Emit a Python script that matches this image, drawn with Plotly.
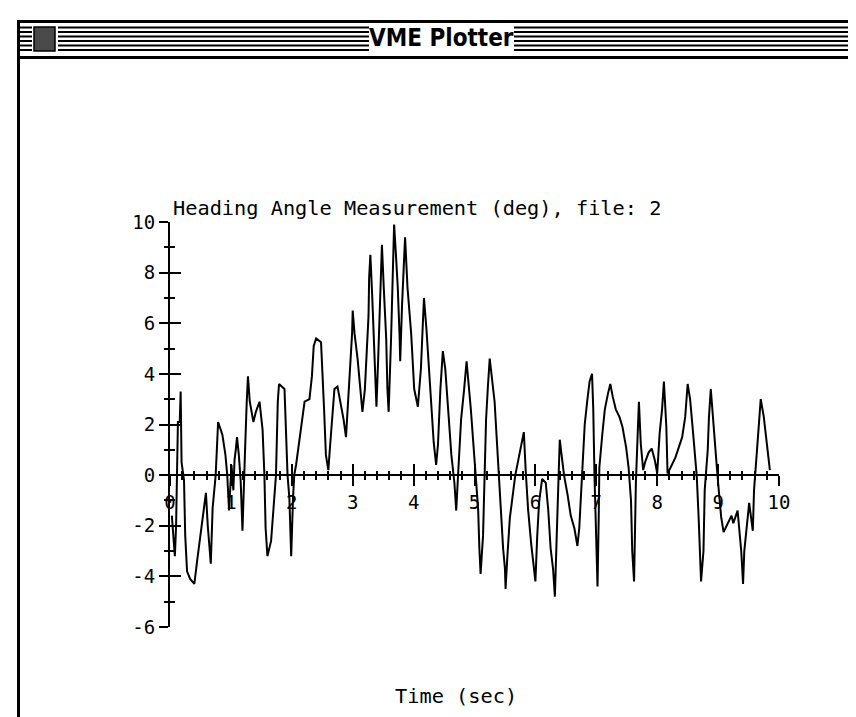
import plotly.graph_objects as go

# ---------------- data ----------------
time_s = [0.03, 0.06, 0.08, 0.10, 0.12, 0.13, 0.16, 0.175, 0.19, 0.21, 0.23, 0.25, 0.28, 0.33, 0.40,
          0.45, 0.50, 0.56, 0.59, 0.62, 0.67, 0.70, 0.75, 0.79, 0.86, 0.91, 0.94, 0.97, 0.99, 1.01,
          1.04, 1.06, 1.08, 1.10, 1.13, 1.16, 1.19, 1.21, 1.23, 1.26, 1.28, 1.31, 1.37, 1.41, 1.47,
          1.52, 1.55, 1.57, 1.60, 1.66, 1.71, 1.74, 1.77, 1.79, 1.88, 1.90, 1.93, 1.96, 1.99, 2.02,
          2.04, 2.07, 2.12, 2.16, 2.21, 2.29, 2.33, 2.36, 2.40, 2.48, 2.50, 2.53, 2.56, 2.60, 2.63,
          2.67, 2.70, 2.75, 2.80, 2.85, 2.89, 2.92, 2.96, 2.99, 3.00, 3.03, 3.08, 3.12, 3.16, 3.20,
          3.23, 3.26, 3.27, 3.29, 3.32, 3.35, 3.38, 3.39, 3.42, 3.45, 3.48, 3.51, 3.55, 3.57, 3.59,
          3.63, 3.66, 3.68, 3.71, 3.74, 3.77, 3.78, 3.81, 3.85, 3.86, 3.90, 3.96, 4.01, 4.07, 4.12,
          4.15, 4.17, 4.21, 4.25, 4.29, 4.33, 4.37, 4.40, 4.44, 4.48, 4.52, 4.56, 4.62, 4.67, 4.70,
          4.73, 4.78, 4.83, 4.87, 4.94, 5.00, 5.06, 5.08, 5.10, 5.14, 5.17, 5.19, 5.22, 5.25, 5.33,
          5.38, 5.42, 5.47, 5.50, 5.51, 5.54, 5.58, 5.67, 5.72, 5.78, 5.81, 5.84, 5.88, 5.93, 5.97,
          6.00, 6.03, 6.06, 6.11, 6.17, 6.21, 6.25, 6.29, 6.32, 6.35, 6.38, 6.40, 6.43, 6.47, 6.53,
          6.58, 6.64, 6.69, 6.72, 6.77, 6.81, 6.85, 6.89, 6.93, 6.95, 6.97, 7.00, 7.02, 7.04, 7.05,
          7.10, 7.14, 7.19, 7.23, 7.27, 7.32, 7.38, 7.43, 7.49, 7.53, 7.57, 7.59, 7.62, 7.65, 7.68,
          7.70, 7.73, 7.77, 7.80, 7.86, 7.91, 7.96, 8.00, 8.04, 8.08, 8.11, 8.15, 8.17, 8.22, 8.30,
          8.41, 8.46, 8.50, 8.54, 8.59, 8.65, 8.68, 8.70, 8.72, 8.76, 8.78, 8.83, 8.85, 8.88, 8.92,
          8.97, 9.00, 9.03, 9.05, 9.09, 9.16, 9.22, 9.25, 9.32, 9.38, 9.41, 9.43, 9.48, 9.51, 9.54,
          9.57, 9.59, 9.64, 9.68, 9.70, 9.75, 9.78, 9.81, 9.85]
heading_deg = [-1.6, -2.6, -3.2, -2.0, 0.0, 2.1, 2.1, 3.3, 0.5, 0.0, -0.2, -2.4, -3.8, -4.1, -4.3,
               -3.3, -2.4, -1.1, -0.7, -2.0, -3.5, -1.3, 0.0, 2.1, 1.6, 0.8, 0.0, -1.4, -0.5, 0.4,
               -0.6, 0.6, 1.0, 1.5, 0.8, -0.2, -2.2, -0.3, 0.8, 2.9, 3.9, 2.9, 2.1, 2.5, 2.9,
               1.8, 0.0, -2.1, -3.2, -2.6, -0.9, 0.0, 2.9, 3.6, 3.4, 2.2, 0.0, -0.9, -3.2, -0.9,
               0.0, 0.4, 1.3, 2.1, 2.9, 3.0, 3.9, 5.1, 5.4, 5.25, 3.9, 2.6, 0.8, 0.2, 1.2,
               2.7, 3.4, 3.5, 2.9, 2.2, 1.5, 2.7, 4.3, 5.6, 6.5, 5.6, 4.6, 3.5, 2.5, 3.4,
               4.7, 6.3, 7.8, 8.7, 7.1, 5.4, 3.8, 2.7, 4.7, 7.4, 9.1, 7.4, 5.4, 3.4, 2.5,
               5.4, 8.0, 9.9, 8.7, 7.4, 5.5, 4.5, 6.7, 8.7, 9.4, 7.4, 5.6, 3.4, 2.7, 4.2,
               5.8, 7.0, 5.8, 4.3, 2.9, 1.3, 0.4, 1.2, 3.4, 4.9, 4.2, 2.7, 0.8, -0.3, -1.4,
               0.0, 2.2, 3.4, 4.5, 2.6, 0.6, -1.35, -2.9, -3.9, -2.4, 0.0, 2.2, 3.5, 4.6, 2.9,
               0.9, -1.1, -2.9, -3.7, -4.5, -3.2, -1.7, 0.0, 0.6, 1.3, 1.7, 0.2, -1.35, -2.7, -3.5,
               -4.2, -2.4, -1.1, -0.15, -0.3, -1.35, -2.9, -3.7, -4.8, -2.4, 0.2, 1.4, 0.8, 0.0, -0.8,
               -1.6, -2.1, -2.8, -2.1, 0.0, 2.0, 2.9, 3.7, 4.0, 2.6, 0.0, -3.0, -4.4, -1.6, 0.3,
               1.65, 2.6, 3.2, 3.6, 3.1, 2.6, 2.3, 1.9, 1.1, 0.3, -1.0, -3.0, -4.2, -0.3, 1.65,
               2.9, 1.25, 0.2, 0.5, 0.9, 1.05, 0.6, 0.07, 1.65, 2.6, 3.7, 1.9, 0.07, 0.3, 0.7,
               1.5, 2.3, 3.6, 3.0, 1.65, -0.07, -1.65, -3.2, -4.2, -3.0, -0.6, 1.0, 2.3, 3.4, 2.3,
               0.6, -0.3, -1.0, -1.65, -2.25, -1.9, -1.6, -1.9, -1.4, -3.0, -4.3, -3.0, -1.65, -1.1, -1.65,
               -2.2, -0.6, 1.0, 2.3, 3.0, 2.3, 1.65, 1.0, 0.2]

x_ticks = [0, 1, 2, 3, 4, 5, 6, 7, 8, 9, 10]
x_tick_labels = ["0", "1", "2", "3", "4", "5", "6", "7", "8", "9", "10"]
y_ticks = [-6, -4, -2, 0, 2, 4, 6, 8, 10]
y_tick_labels = ["-6", "-4", "-2", "0", "2", "4", "6", "8", "10"]

plot_title = "Heading Angle Measurement (deg), file: 2"
x_title = "Time (sec)"
window_title = "VME Plotter"

# ---------------- layout geometry (pixels) ----------------
W, H = 856, 717
L, R, T, B = 162, 771, 214, 619
MONO = "DejaVu Sans Mono, Liberation Mono, monospace"


def px(xp):
    return (xp - L) / (R - L)


def py(yp):
    return (B - yp) / (B - T)


fig = go.Figure()
fig.add_trace(go.Scatter(x=time_s, y=heading_deg, mode="lines",
                         line=dict(color="black", width=2),
                         hoverinfo="skip", showlegend=False))
# helper trace so the overlay axes (opposite-side ticks) render
fig.add_trace(go.Scatter(x=[None], y=[None], xaxis="x2", yaxis="y2",
                         mode="lines", showlegend=False, hoverinfo="skip"))

y0_pos = (0 - (-6)) / (10 - (-6))

common_x = dict(range=[0, 10], showgrid=False, zeroline=False, fixedrange=True)
common_y = dict(range=[-6, 10], showgrid=False, zeroline=False, fixedrange=True)

fig.update_layout(
    width=W, height=H,
    margin=dict(l=L, r=W - R, t=T, b=H - B, pad=0),
    paper_bgcolor="white", plot_bgcolor="white",
    showlegend=False,
    xaxis=dict(**common_x, anchor="free", position=y0_pos,
               showline=True, linecolor="black", linewidth=2,
               tickmode="array", tickvals=x_ticks, ticktext=x_tick_labels,
               ticks="outside", ticklen=10, tickwidth=2, tickcolor="black",
               minor=dict(dtick=0.2, ticks="outside", ticklen=4, tickwidth=2, tickcolor="black"),
               tickfont=dict(family=MONO, size=19, color="black")),
    xaxis2=dict(**common_x, overlaying="x", anchor="free", position=y0_pos,
                showline=False, showticklabels=False,
                tickmode="array", tickvals=x_ticks,
                ticks="inside", ticklen=11, tickwidth=2, tickcolor="black",
                minor=dict(dtick=0.2, ticks="inside", ticklen=4, tickwidth=2, tickcolor="black")),
    yaxis=dict(**common_y, anchor="x",
               showline=True, linecolor="black", linewidth=2,
               tickmode="array", tickvals=y_ticks, ticktext=y_tick_labels,
               ticks="outside", ticklen=9, tickwidth=2, tickcolor="black",
               minor=dict(dtick=1, ticks="outside", ticklen=4, tickwidth=2, tickcolor="black"),
               tickfont=dict(family=MONO, size=19, color="black")),
    yaxis2=dict(**common_y, overlaying="y", anchor="x", side="left",
                showline=False, showticklabels=False,
                tickmode="array", tickvals=y_ticks,
                ticks="inside", ticklen=11, tickwidth=2, tickcolor="black",
                minor=dict(dtick=1, ticks="inside", ticklen=5, tickwidth=2, tickcolor="black")),
)

annotations = [
    dict(text=plot_title, xref="paper", yref="paper", x=px(163), y=py(200),
         xanchor="left", yanchor="middle", showarrow=False,
         font=dict(family=MONO, size=20.3, color="black")),
    dict(text=x_title, xref="paper", yref="paper", x=px(448), y=py(688),
         xanchor="center", yanchor="middle", showarrow=False,
         font=dict(family=MONO, size=20.3, color="black")),
    dict(text="<b>" + window_title + "</b>", xref="paper", yref="paper", x=px(433), y=py(30),
         xanchor="center", yanchor="middle", showarrow=False,
         font=dict(family="DejaVu Sans Condensed, DejaVu Sans, sans-serif", size=24, color="black")),
]
fig.update_layout(annotations=annotations)

# ---------------- window chrome (classic Mac window) ----------------
shapes = []


def hline(x0, x1, y, w):
    shapes.append(dict(type="line", xref="paper", yref="paper",
                       x0=px(x0), x1=px(x1), y0=py(y), y1=py(y),
                       line=dict(color="black", width=w)))


# frame
hline(9, W, 13.5, 3)
hline(9, W, 49.5, 3)
shapes.append(dict(type="line", xref="paper", yref="paper",
                   x0=px(10.5), x1=px(10.5), y0=py(12), y1=py(H),
                   line=dict(color="black", width=3)))
# title-bar stripes
for yy in [19.5, 24, 28.5, 33, 37.5, 42]:
    hline(12, 24, yy, 2)
    hline(50, 361, yy, 2)
    hline(506, W, yy, 2)
# close box
shapes.append(dict(type="rect", xref="paper", yref="paper",
                   x0=px(26), x1=px(47), y0=py(19), y1=py(43),
                   fillcolor="#4a4a4a", line=dict(color="black", width=1.5)))
fig.update_layout(shapes=shapes)

fig.write_html("out.html")
